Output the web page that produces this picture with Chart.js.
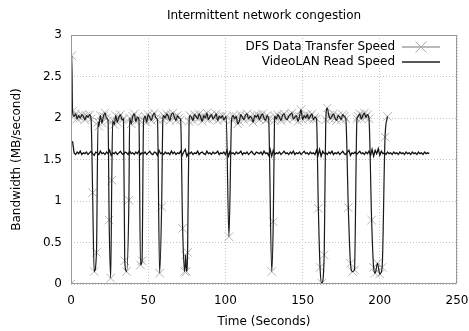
<!DOCTYPE html>
<html>
<head>
  <meta name="viewport" content="width=device-width, initial-scale=1.0">
  <title>Intermittent network congestion</title>
  <script src="https://cdn.jsdelivr.net/npm/chart.js"></script>
  <style>
    body {
      margin: 0;
      padding: 0;
      background: #ffffff;
    }
    canvas {
      display: block;
    }
  </style>
</head>
<body>

  <canvas id="chartNet" width="469" height="331"></canvas>

  <script>
    // 1. Data
    const titleText = 'Intermittent network congestion';
    const seriesNames = ['DFS Data Transfer Speed', 'VideoLAN Read Speed'];
    const xTicks = [0, 50, 100, 150, 200, 250];
    const yTicks = [0, 0.5, 1, 1.5, 2, 2.5, 3];

    // DFS: time (s) and speed (MB/s)
    const dfsTime = [
      0, 0.5, 1, 2, 3, 4, 5, 6, 7, 8, 9, 10, 11, 12, 13, 14, 15, 16.5, 17.5,
      18, 19, 20, 21, 22, 23, 24, 24.7, 25.7, 26.4, 27, 28, 29, 30, 31, 32, 33, 34,
      34.8, 36, 37.5, 38, 39, 40, 41, 42, 43, 44, 45, 46, 47, 48, 49, 50, 51, 52,
      53, 54, 55, 56, 57.4, 58.7, 59.5, 60, 61, 62, 63, 64, 65, 66, 67, 68, 69, 70,
      71, 72.3, 73.6, 74.2, 74.8, 75.5, 76.5, 77,
      78, 79, 80, 81, 82, 83, 84, 85, 86, 87, 88, 89, 90, 91, 92, 93, 94, 95, 96, 97, 98, 99, 100.5,
      102.3, 104,
      105, 106, 107, 108, 109, 110, 111, 112, 113, 114, 115, 116, 117, 118, 119, 120, 121, 122, 123, 124, 125, 126, 127,
      128, 130, 131, 131.8,
      132, 133, 134, 135, 136, 137, 138, 139, 140, 141, 142, 143, 144, 145, 146, 147, 148, 149, 150, 151, 152, 153, 154, 155, 156, 157, 158,
      159, 160.2, 161.3, 162.4, 164, 165, 166,
      167, 168, 169, 170, 171, 172, 173, 174, 175, 176, 177, 178,
      179.6, 181, 182.3, 183.6, 185.2,
      186, 187, 188, 189, 190, 191, 192, 193,
      194.7, 196, 197, 198.5, 200, 201.5, 203.4, 205
    ];
    const dfsSpeed = [
      0.00, 2.75, 2.08, 2.02, 2.05, 1.99, 2.03, 2.00, 2.04, 2.02, 1.98, 2.03, 2.01, 2.04, 1.99, 1.10, 0.15, 0.38, 1.95,
      1.90, 2.03, 1.94, 2.02, 2.06, 2.00, 1.97, 0.77, 0.07, 1.25, 1.97, 1.92, 2.03, 1.95, 2.01, 2.04, 1.98, 1.99,
      0.28, 0.15, 1.01, 2.00, 1.93, 2.02, 2.05, 1.96, 2.01, 1.98, 0.23, 0.28, 1.97, 2.02, 1.95, 2.04, 2.01, 1.97,
      2.03, 2.06, 2.00, 1.98, 0.13, 0.93, 1.98, 2.03, 2.00, 2.05, 2.02, 1.97, 2.04, 2.06, 2.01, 1.97, 2.03, 2.00,
      1.98, 0.67, 0.15, 0.35, 0.15, 0.38, 1.96, 2.03,
      2.01, 1.97, 2.04, 2.02, 1.99, 2.05, 2.01, 1.96, 2.03, 2.00, 2.06, 1.98, 2.02, 2.04, 1.99, 2.01, 2.05, 1.97, 2.02, 2.00, 2.03, 1.98, 2.02,
      0.57, 1.98,
      2.03, 1.99, 2.02, 1.93, 1.96, 2.04, 2.01, 1.98, 2.03, 2.05, 1.99, 2.02, 2.00, 1.95, 2.03, 2.01, 2.04, 1.98, 2.02, 2.05, 2.00, 1.97, 2.03,
      1.99, 0.15, 0.75, 1.97,
      2.02, 1.99, 2.04, 2.01, 1.97, 2.03, 2.05, 2.00, 1.98, 2.02, 2.04, 2.06, 1.99, 2.01, 2.03, 1.96, 2.02, 2.10, 1.98, 2.03, 2.00, 2.04, 1.99, 2.02, 2.05, 1.98, 2.01,
      1.99, 0.91, 0.20, 0.01, 0.35, 1.98, 2.12,
      2.03, 1.99, 2.02, 2.05, 2.00, 1.97, 2.03, 2.01, 1.98, 2.04, 2.02, 1.99,
      0.92, 0.25, 0.15, 0.17, 1.99,
      2.02, 2.05, 1.99, 2.03, 2.06, 2.01, 2.04, 1.99,
      0.77, 0.20, 0.13, 0.25, 0.12, 0.20, 1.77, 2.02
    ];

    // VideoLAN: one sample per second starting at t = 1 s
    const vlcStart = 1;
    const vlcStep = 1;
    const vlcSpeed = [
      1.72, 1.58, 1.56, 1.59, 1.57, 1.60, 1.56, 1.58, 1.57, 1.59,
      1.56, 1.58, 1.60, 1.57, 1.55, 1.59, 1.58, 1.56, 1.60, 1.57,
      1.58, 1.56, 1.59, 1.57, 1.61, 1.55, 1.58, 1.57, 1.59, 1.56,
      1.58, 1.60, 1.57, 1.56, 1.59, 1.58, 1.56, 1.60, 1.57, 1.58,
      1.56, 1.59, 1.57, 1.60, 1.56, 1.58, 1.57, 1.59, 1.56, 1.58,
      1.60, 1.57, 1.56, 1.59, 1.58, 1.55, 1.61, 1.57, 1.58, 1.56,
      1.59, 1.57, 1.58, 1.56, 1.60, 1.57, 1.59, 1.56, 1.58, 1.57,
      1.60, 1.55, 1.59, 1.62, 1.54, 1.58, 1.57, 1.59, 1.56, 1.58,
      1.57, 1.60, 1.56, 1.58, 1.59, 1.57, 1.56, 1.60, 1.57, 1.58,
      1.56, 1.59, 1.57, 1.58, 1.60, 1.56, 1.58, 1.57, 1.59, 1.56,
      1.61, 1.54, 1.60, 1.57, 1.58, 1.56, 1.59, 1.57, 1.58, 1.60,
      1.56, 1.58, 1.57, 1.59, 1.56, 1.58, 1.60, 1.57, 1.56, 1.59,
      1.58, 1.57, 1.59, 1.56, 1.60, 1.57, 1.58, 1.55, 1.62, 1.54,
      1.61, 1.56, 1.58, 1.57, 1.59, 1.56, 1.58, 1.60, 1.57, 1.58,
      1.56, 1.59, 1.57, 1.60, 1.56, 1.58, 1.57, 1.59, 1.56, 1.58,
      1.60, 1.57, 1.58, 1.56, 1.59, 1.57, 1.58, 1.56, 1.61, 1.55,
      1.62, 1.54, 1.60, 1.57, 1.58, 1.56, 1.59, 1.57, 1.60, 1.56,
      1.58, 1.57, 1.59, 1.56, 1.58, 1.60, 1.57, 1.56, 1.59, 1.61,
      1.55, 1.58, 1.57, 1.59, 1.56, 1.58, 1.60, 1.57, 1.58, 1.56,
      1.59, 1.57, 1.60, 1.55, 1.62, 1.54, 1.61, 1.57, 1.63, 1.55,
      1.60, 1.57, 1.58, 1.56, 1.59, 1.57, 1.58, 1.56, 1.59, 1.57,
      1.58, 1.56, 1.59, 1.57, 1.58, 1.56, 1.59, 1.57, 1.58, 1.56,
      1.59, 1.57, 1.58, 1.56, 1.59, 1.57, 1.58, 1.56, 1.59, 1.57,
      1.58, 1.57
    ];

    const FONT = 'DejaVu Sans';
    const dfsPoints = dfsTime.map((t, i) => ({ x: t, y: dfsSpeed[i] }));
    const vlcPoints = vlcSpeed.map((v, i) => ({ x: vlcStart + i * vlcStep, y: v }));

    // 2. Title centred over the plot, frame, and legend (text right, sample on the right)
    const framePlugin = {
      id: 'frameLegend',
      afterDraw(chart) {
        const { ctx, chartArea: a } = chart;
        ctx.save();
        ctx.strokeStyle = '#999';
        ctx.lineWidth = 1;
        ctx.strokeRect(a.left + 0.5, a.top + 0.5, a.right - a.left - 1, a.bottom - a.top - 1);

        ctx.font = '12px "' + FONT + '"';
        ctx.fillStyle = '#000';
        ctx.textBaseline = 'middle';
        ctx.textAlign = 'center';
        ctx.fillText(titleText, (a.left + a.right) / 2, 16);

        ctx.textAlign = 'right';
        const textX = a.right - 62;
        const lineX1 = a.right - 55;
        const lineX2 = a.right - 17;
        const rows = [a.top + 12, a.top + 27];

        ctx.fillText(seriesNames[0], textX, rows[0]);
        ctx.fillText(seriesNames[1], textX, rows[1]);

        ctx.strokeStyle = '#777';
        ctx.lineWidth = 1.2;
        ctx.beginPath();
        ctx.moveTo(lineX1, rows[0]); ctx.lineTo(lineX2, rows[0]);
        ctx.stroke();
        const mx = (lineX1 + lineX2) / 2, r = 5.5;
        ctx.strokeStyle = '#aaa';
        ctx.lineWidth = 1;
        ctx.beginPath();
        ctx.moveTo(mx - r, rows[0] - r); ctx.lineTo(mx + r, rows[0] + r);
        ctx.moveTo(mx - r, rows[0] + r); ctx.lineTo(mx + r, rows[0] - r);
        ctx.stroke();

        ctx.strokeStyle = '#222';
        ctx.lineWidth = 1.4;
        ctx.beginPath();
        ctx.moveTo(lineX1, rows[1]); ctx.lineTo(lineX2, rows[1]);
        ctx.stroke();
        ctx.restore();
      }
    };

    // 3. Chart
    const ctxNet = document.getElementById('chartNet').getContext('2d');
    const chartNet = new Chart(ctxNet, {
      type: 'line',
      data: {
        datasets: [
          {
            label: seriesNames[0],
            data: dfsPoints,
            borderColor: '#1a1a1a',
            borderWidth: 1.2,
            pointRadius: 0,
            cubicInterpolationMode: 'monotone',
            order: 0
          },
          {
            label: seriesNames[0] + ' points',
            data: dfsPoints,
            showLine: false,
            pointStyle: 'crossRot',
            pointRadius: 6,
            pointBorderColor: '#b4b4b4',
            pointBorderWidth: 1,
            order: 2
          },
          {
            label: seriesNames[1],
            data: vlcPoints,
            borderColor: '#111',
            borderWidth: 1.3,
            pointRadius: 0,
            tension: 0,
            order: 1
          }
        ]
      },
      options: {
        responsive: false,
        animation: false,
        layout: { padding: { left: 0, right: 0, top: 35, bottom: 0 } },
        plugins: {
          legend: { display: false },
          tooltip: { enabled: false },
          title: { display: false }
        },
        scales: {
          x: {
            type: 'linear',
            min: 0,
            max: 250,
            afterBuildTicks: (s) => { s.ticks = xTicks.map(v => ({ value: v })); },
            afterFit: (s) => { s.height = 47; s.paddingRight = 12; s.paddingLeft = 0; },
            grid: { color: '#c4c4c4', tickLength: 0, drawTicks: false },
            border: { display: false, dash: [1, 2] },
            ticks: {
              color: '#000', padding: 10, font: { family: FONT, size: 12 },
              callback: (v) => String(v)
            },
            title: {
              display: true, text: 'Time (Seconds)', color: '#000',
              font: { family: FONT, size: 12 }, padding: { top: 0, bottom: 2 }
            }
          },
          y: {
            min: 0,
            max: 3,
            afterBuildTicks: (s) => { s.ticks = yTicks.map(v => ({ value: v })); },
            afterFit: (s) => { s.width = 71; },
            grid: { color: '#c4c4c4', tickLength: 0, drawTicks: false },
            border: { display: false, dash: [1, 2] },
            ticks: {
              color: '#000', padding: 9, font: { family: FONT, size: 12 },
              callback: (v) => String(v)
            },
            title: {
              display: true, text: 'Bandwidth (MB/second)', color: '#000',
              font: { family: FONT, size: 12 }, padding: { top: 10, bottom: 0 }
            }
          }
        }
      },
      plugins: [framePlugin]
    });
  </script>
</body>
</html>
